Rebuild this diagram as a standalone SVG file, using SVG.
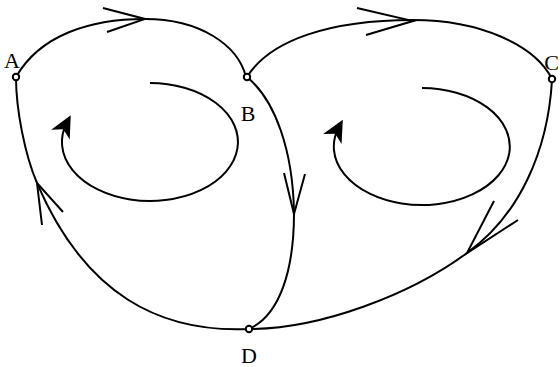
<svg xmlns="http://www.w3.org/2000/svg" width="560" height="367" viewBox="0 0 560 367">
<style>
.e{fill:none;stroke:#000;stroke-width:2}
.h{fill:none;stroke:#000;stroke-width:2;stroke-linejoin:miter}
.n{fill:#fff;stroke:#000;stroke-width:2}
.t{font-family:"Liberation Serif","Times New Roman",serif;font-size:22px;fill:#000;text-anchor:middle}
</style>
<defs>
<marker id="fa" markerUnits="userSpaceOnUse" markerWidth="40" markerHeight="40" viewBox="-25 -15 40 30" refX="0" refY="0" orient="auto" overflow="visible">
<path d="M8,0 L-14,-10.5 L-8,0 L-14,10.5 Z" fill="#000"/>
</marker>
</defs>
<g id="connectors">
<path class="e" d="M16,77 C40,35 90,19 145,19 C200,19 238,45 246,77"/>
<polyline class="h" points="103,8 145,19 107,32"/>
<path class="e" d="M247,77 C270,40 330,20 413,20 C480,20 535,45 552,79"/>
<polyline class="h" points="357,8 413,21 366,35"/>
<path class="e" d="M247,77 C275,100 293,150 294,213 C294,270 280,315 249,329"/>
<polyline class="h" points="284,173 294,214 305,174"/>
<path class="e" d="M552,80 C548,150 520,215 467,253 C410,295 320,329 249,329"/>
<polyline class="h" points="494,201 467,253 518,220"/>
<path class="e" d="M249,329 C160,333 85,295 37,183 C25,155 16,110 16,77"/>
<polyline class="h" points="42,225 37,183 63,212"/>
<path class="e" d="M150,83 A88,59 0 1 1 67,122.3" marker-end="url(#fa)"/>
<path class="e" d="M422,88 A88,58.5 0 1 1 339,126.7" marker-end="url(#fa)"/>
</g>
<g id="A"><circle class="n" cx="16" cy="77" r="3.2"/><text class="t" x="12" y="68">A</text></g>
<g id="B"><circle class="n" cx="247" cy="77" r="3.2"/><text class="t" x="248" y="121">B</text></g>
<g id="C"><circle class="n" cx="552" cy="79" r="3.2"/><text class="t" x="559" y="70" style="text-anchor:end">C</text></g>
<g id="D"><circle class="n" cx="249" cy="329" r="3.2"/><text class="t" x="249" y="363">D</text></g>
</svg>
